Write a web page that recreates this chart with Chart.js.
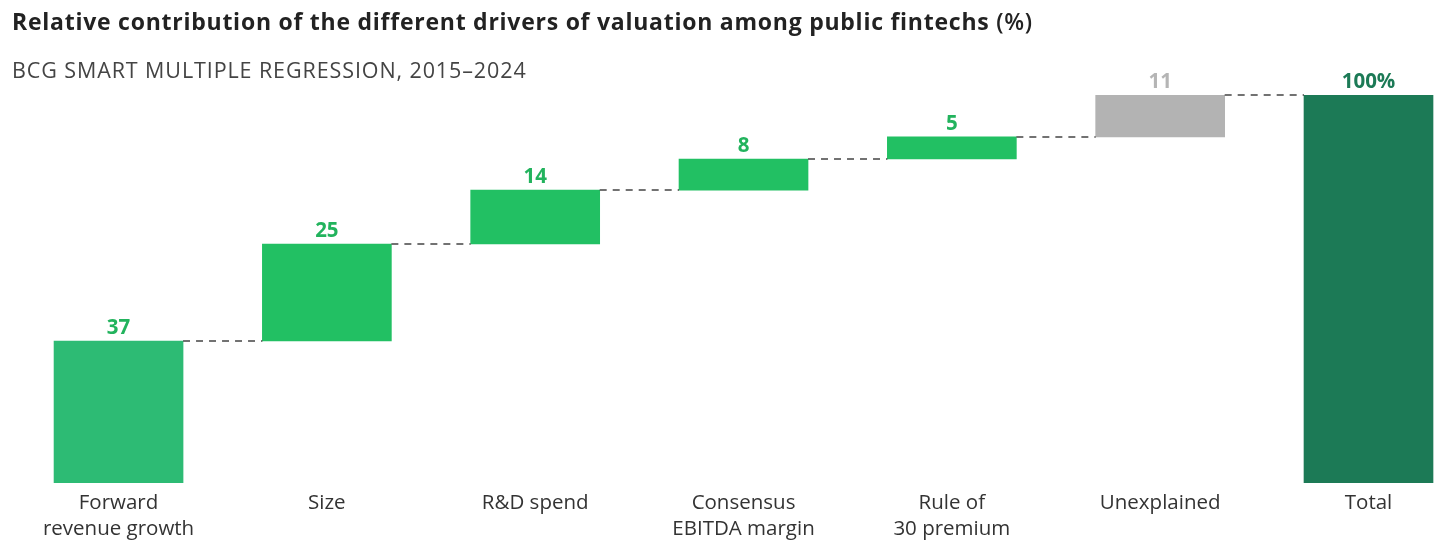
<!DOCTYPE html>
<html>
<head>
<meta charset="utf-8">
<script src="https://cdn.jsdelivr.net/npm/chart.js@4.4.1/dist/chart.umd.min.js"></script>
<style>
    html, body { margin: 0; padding: 0; background: #fff; }
    #wrap { position: relative; width: 1456px; height: 559px; overflow: hidden; }
    #title { position: absolute; left: 12px; top: 5px; font-family: 'Open Sans', sans-serif; font-weight: 700; font-size: 23px; letter-spacing: 0.75px; color: #222; white-space: nowrap; }
    #title span { font-weight: 600; }
    #subtitle { position: absolute; left: 12px; top: 55px; font-family: 'Open Sans', sans-serif; font-size: 21.5px; letter-spacing: 0.9px; color: #444; white-space: nowrap; }
    #chart { position: absolute; left: 0; top: 0; }
</style>
</head>
<body>
<div id="wrap">
    <canvas id="chart" width="1456" height="559"></canvas>
    <div id="title">Relative contribution of the different drivers of valuation among public fintechs <span>(%)</span></div>
    <div id="subtitle">BCG SMART MULTIPLE REGRESSION, 2015–2024</div>
</div>
<script>
// Dados do gráfico (início e fim de cada barra flutuante)
const categories = [
    ['Forward', 'revenue growth'],
    'Size',
    'R&D spend',
    ['Consensus', 'EBITDA margin'],
    ['Rule of', '30 premium'],
    'Unexplained',
    'Total'
];
const barStart = [0, 36.6, 61.6, 75.5, 83.5, 89.2, 0];
const barEnd = [36.6, 61.6, 75.5, 83.5, 89.2, 100, 100];
const valueLabels = ['37', '25', '14', '8', '5', '11', '100%'];

const barColors = ['#2dbb74', '#22c063', '#22c063', '#22c063', '#22c063', '#b3b3b3', '#1c7a56'];
const labelColors = ['#22b35d', '#22b35d', '#22b35d', '#22b35d', '#22b35d', '#b5b5b5', '#1c7a56'];

// Plugin: rótulos de valor e linhas tracejadas
const waterfallExtras = {
    id: 'waterfallExtras',
    afterDatasetsDraw(chart) {
        const ctx = chart.ctx;
        const bars = chart.getDatasetMeta(0).data;
        ctx.save();
        // linhas tracejadas
        ctx.strokeStyle = '#444';
        ctx.lineWidth = 1.5;
        ctx.setLineDash([7, 6]);
        for (let i = 0; i < bars.length - 1; i++) {
            const a = bars[i], b = bars[i + 1];
            ctx.beginPath();
            ctx.moveTo(a.x + a.width / 2, a.y);
            ctx.lineTo(b.x - b.width / 2, a.y);
            ctx.stroke();
        }
        ctx.setLineDash([]);
        // rótulos
        ctx.font = 'bold 20.5px "Open Sans", sans-serif';
        ctx.textAlign = 'center';
        ctx.textBaseline = 'alphabetic';
        bars.forEach((bar, i) => {
            ctx.fillStyle = labelColors[i];
            ctx.fillText(valueLabels[i], bar.x, bar.y - 7);
        });
        ctx.restore();
    }
};

const ctx = document.getElementById('chart').getContext('2d');
new Chart(ctx, {
    type: 'bar',
    data: {
        datasets: [{
            data: categories.map((c, i) => ({ x: i, y: [barStart[i], barEnd[i]] })),
            backgroundColor: barColors,
            borderWidth: 0,
            borderSkipped: false,
            barThickness: 129
        }]
    },
    options: {
        responsive: false,
        animation: false,
        layout: { padding: { top: 95, left: 0, right: 0, bottom: 0 } },
        plugins: {
            legend: { display: false },
            tooltip: { enabled: false }
        },
        scales: {
            x: {
                type: 'linear',
                offset: false,
                min: -0.569,
                max: 6.42,
                grid: { display: false, drawTicks: false },
                border: { display: false },
                afterBuildTicks: (scale) => {
                    scale.ticks = categories.map((c, i) => ({ value: i }));
                },
                afterFit: (scale) => { scale.height = 76; },
                ticks: {
                    autoSkip: false,
                    maxRotation: 0,
                    padding: 7,
                    color: '#333',
                    font: { family: 'Open Sans', size: 20.5, lineHeight: 1.27 },
                    callback: (v) => categories[v]
                }
            },
            y: {
                display: false,
                min: 0,
                max: 100
            }
        }
    },
    plugins: [waterfallExtras]
});
</script>
</body>
</html>
